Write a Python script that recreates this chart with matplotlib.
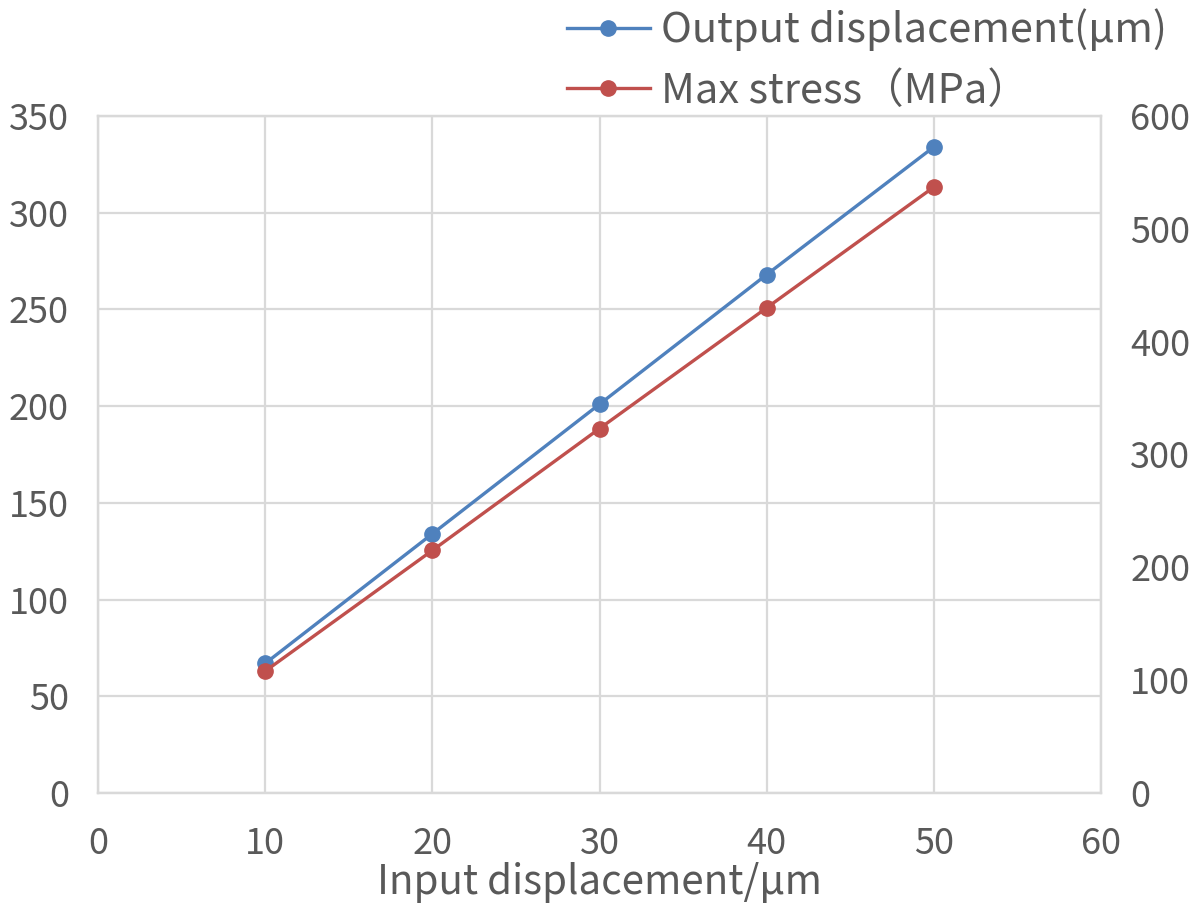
import matplotlib
matplotlib.use("Agg")
import matplotlib.pyplot as plt

plt.rcParams['font.family'] = ['Noto Sans CJK SC', 'DejaVu Sans']

# data
input_disp = [10, 20, 30, 40, 50]
output_disp = [67, 134, 201, 268, 334]
max_stress = [108, 215, 323, 430, 537]

label_out = "Output displacement(µm)"
label_stress = "Max stress（MPa）"
xlabel = "Input displacement/µm"

BLUE = "#4F81BD"
RED = "#C0504D"
TEXT = "#595959"
GRID = "#D9D9D9"

fig = plt.figure(figsize=(12, 9.11), dpi=100)
ax = fig.add_axes([0.0817, 0.1295, 0.9175 - 0.0817, 0.8727 - 0.1295])
ax2 = ax.twinx()

l1, = ax.plot(input_disp, output_disp, color=BLUE, linewidth=2.4,
              marker='o', markersize=11, label=label_out, zorder=3)
l2, = ax2.plot(input_disp, max_stress, color=RED, linewidth=2.4,
               marker='o', markersize=11, label=label_stress, zorder=3)

ax.set_xlim(0, 60)
ax.set_ylim(0, 350)
ax2.set_ylim(0, 600)
ax.set_xticks(range(0, 61, 10))
ax.set_yticks(range(0, 351, 50))
ax2.set_yticks(range(0, 601, 100))

ax.grid(True, color=GRID, linewidth=1.6)
ax.set_axisbelow(True)

for a in (ax, ax2):
    for s in a.spines.values():
        s.set_color(GRID)
        s.set_linewidth(1.6)
    a.tick_params(length=0, labelsize=26, colors=TEXT)

ax.tick_params(axis='y', pad=21)
ax.tick_params(axis='x', pad=24)
ax2.tick_params(axis='y', pad=21)

ax.set_xlabel(xlabel, fontsize=29, color=TEXT, labelpad=0)

leg = fig.legend(handles=[l1, l2], loc='upper right',
                 bbox_to_anchor=(1.004, 1.032), frameon=False,
                 fontsize=30, labelcolor=TEXT, handlelength=2.0,
                 handletextpad=0.27, labelspacing=0.47)

fig.savefig("out.png", dpi=100)
